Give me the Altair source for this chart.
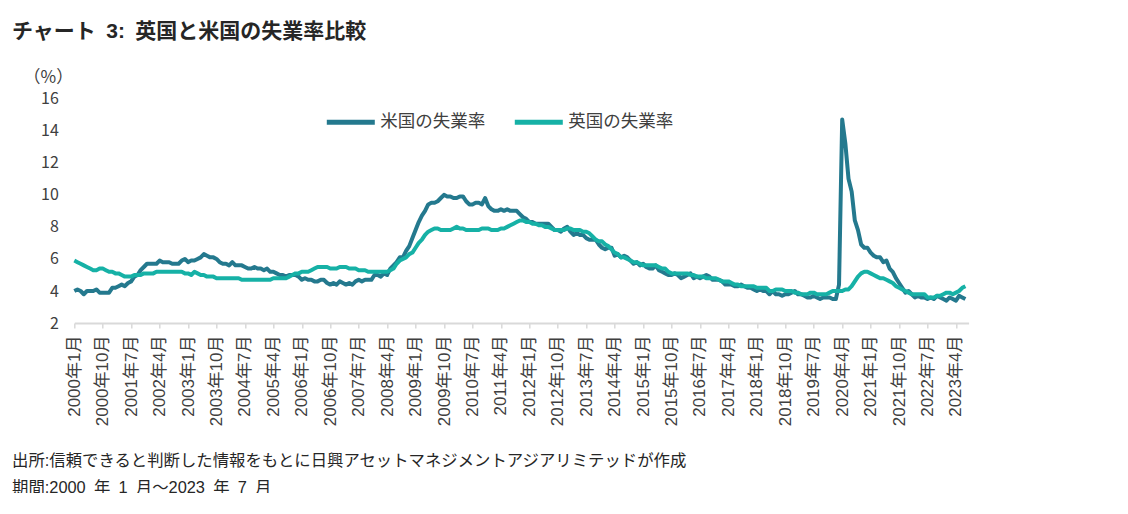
import altair as alt
import pandas as pd

SP = "\u2002"  # CJK-width space as used in the source document
title_text = [f"チャート{SP}3:{SP}英国と米国の失業率比較"]
unit_text = ["（%）"]
note1_text = ["出所:信頼できると判断した情報をもとに日興アセットマネジメントアジアリミテッドが作成"]
note2_text = [f"期間:2000{SP}年{SP}1{SP}月～2023{SP}年{SP}7{SP}月"]
series_names = ["米国の失業率", "英国の失業率"]
series_colors = ["#24798E", "#16B1A6"]

months = pd.period_range("2000-01", "2023-07", freq="M")

us_rate = [
    4.0, 4.1, 4.0, 3.8, 4.0, 4.0, 4.0, 4.1, 3.9, 3.9, 3.9, 3.9,
    4.2, 4.2, 4.3, 4.4, 4.3, 4.5, 4.6, 4.9, 5.0, 5.3, 5.5, 5.7,
    5.7, 5.7, 5.7, 5.9, 5.8, 5.8, 5.8, 5.7, 5.7, 5.7, 5.9, 6.0,
    5.8, 5.9, 5.9, 6.0, 6.1, 6.3, 6.2, 6.1, 6.1, 6.0, 5.8, 5.7,
    5.7, 5.6, 5.8, 5.6, 5.6, 5.6, 5.5, 5.4, 5.4, 5.5, 5.4, 5.4,
    5.3, 5.4, 5.2, 5.2, 5.1, 5.0, 5.0, 4.9, 5.0, 5.0, 5.0, 4.9,
    4.7, 4.8, 4.7, 4.7, 4.6, 4.6, 4.7, 4.7, 4.5, 4.4, 4.5, 4.4,
    4.6, 4.5, 4.4, 4.5, 4.4, 4.6, 4.7, 4.6, 4.7, 4.7, 4.7, 5.0,
    5.0, 4.9, 5.1, 5.0, 5.4, 5.6, 5.8, 6.1, 6.1, 6.5, 6.8, 7.3,
    7.8, 8.3, 8.7, 9.0, 9.4, 9.5, 9.5, 9.6, 9.8, 10.0, 9.9, 9.9,
    9.8, 9.8, 9.9, 9.9, 9.6, 9.4, 9.4, 9.5, 9.5, 9.4, 9.8, 9.3,
    9.1, 9.0, 9.0, 9.1, 9.0, 9.1, 9.0, 9.0, 9.0, 8.8, 8.6, 8.5,
    8.3, 8.3, 8.2, 8.2, 8.2, 8.2, 8.2, 8.0, 7.8, 7.8, 7.7, 7.9,
    8.0, 7.7, 7.5, 7.6, 7.5, 7.5, 7.3, 7.2, 7.2, 7.2, 6.9, 6.7,
    6.6, 6.7, 6.7, 6.2, 6.3, 6.1, 6.2, 6.1, 5.9, 5.7, 5.8, 5.6,
    5.7, 5.5, 5.4, 5.4, 5.6, 5.3, 5.2, 5.1, 5.0, 5.0, 5.1, 5.0,
    4.8, 4.9, 5.0, 5.1, 4.8, 4.9, 4.8, 4.9, 5.0, 4.9, 4.7, 4.7,
    4.7, 4.6, 4.4, 4.4, 4.4, 4.3, 4.3, 4.4, 4.3, 4.2, 4.2, 4.1,
    4.0, 4.1, 4.0, 4.0, 3.8, 4.0, 3.8, 3.8, 3.7, 3.8, 3.8, 3.9,
    4.0, 3.8, 3.8, 3.7, 3.6, 3.6, 3.7, 3.6, 3.5, 3.6, 3.6, 3.6,
    3.5, 3.5, 4.4, 14.7, 13.2, 11.0, 10.2, 8.4, 7.8, 6.9, 6.7, 6.7,
    6.4, 6.2, 6.1, 6.1, 5.8, 5.9, 5.4, 5.2, 4.8, 4.5, 4.2, 3.9,
    4.0, 3.8, 3.6, 3.7, 3.6, 3.6, 3.5, 3.6, 3.5, 3.7, 3.6, 3.5,
    3.4, 3.6, 3.5, 3.4, 3.7, 3.6, 3.5,
]

uk_rate = [
    5.9, 5.8, 5.7, 5.6, 5.5, 5.4, 5.3, 5.3, 5.4, 5.4, 5.3, 5.2,
    5.2, 5.1, 5.1, 5.0, 4.9, 4.9, 4.9, 5.0, 5.0, 5.0, 5.1, 5.1,
    5.1, 5.1, 5.2, 5.2, 5.2, 5.2, 5.2, 5.2, 5.2, 5.2, 5.2, 5.1,
    5.1, 5.0, 5.2, 5.1, 5.0, 5.0, 4.9, 4.9, 4.9, 4.8, 4.8, 4.8,
    4.8, 4.8, 4.8, 4.8, 4.8, 4.7, 4.7, 4.7, 4.7, 4.7, 4.7, 4.7,
    4.7, 4.7, 4.7, 4.8, 4.8, 4.8, 4.8, 4.8, 4.9, 5.0, 5.1, 5.1,
    5.2, 5.2, 5.2, 5.3, 5.4, 5.5, 5.5, 5.5, 5.5, 5.4, 5.4, 5.4,
    5.5, 5.5, 5.5, 5.4, 5.4, 5.4, 5.3, 5.3, 5.3, 5.2, 5.2, 5.2,
    5.2, 5.2, 5.2, 5.2, 5.3, 5.4, 5.7, 5.9, 6.0, 6.1, 6.3, 6.4,
    6.7, 7.0, 7.2, 7.5, 7.7, 7.8, 7.9, 7.9, 7.8, 7.8, 7.8, 7.8,
    7.9, 8.0, 7.9, 7.9, 7.8, 7.8, 7.8, 7.8, 7.8, 7.9, 7.9, 7.9,
    7.8, 7.8, 7.8, 7.9, 7.9, 8.0, 8.1, 8.2, 8.3, 8.4, 8.4, 8.3,
    8.3, 8.2, 8.2, 8.1, 8.1, 8.0, 8.0, 7.9, 7.8, 7.8, 7.8, 7.8,
    7.9, 7.9, 7.8, 7.8, 7.8, 7.7, 7.7, 7.6, 7.4, 7.2, 7.1, 7.1,
    6.9, 6.8, 6.6, 6.4, 6.3, 6.1, 6.1, 6.0, 5.9, 5.8, 5.8, 5.7,
    5.6, 5.6, 5.6, 5.6, 5.6, 5.5, 5.4, 5.4, 5.2, 5.1, 5.1, 5.1,
    5.1, 5.1, 5.1, 5.0, 5.0, 4.9, 4.9, 4.9, 4.8, 4.8, 4.8, 4.8,
    4.7, 4.6, 4.6, 4.6, 4.5, 4.4, 4.4, 4.3, 4.3, 4.3, 4.3, 4.3,
    4.2, 4.2, 4.2, 4.2, 4.0, 4.0, 4.1, 4.1, 4.1, 4.0, 4.0, 4.0,
    3.9, 3.9, 3.8, 3.8, 3.8, 3.9, 3.9, 3.8, 3.8, 3.8, 3.8, 3.9,
    4.0, 4.0, 4.0, 4.0, 4.1, 4.1, 4.3, 4.6, 4.9, 5.1, 5.2, 5.2,
    5.1, 5.0, 4.9, 4.8, 4.8, 4.7, 4.6, 4.5, 4.3, 4.2, 4.1, 4.0,
    3.9, 3.8, 3.8, 3.8, 3.8, 3.8, 3.6, 3.6, 3.6, 3.7, 3.7, 3.8,
    3.9, 3.9, 3.8, 3.9, 4.0, 4.2, 4.3,
]

tick_idx = list(range(0, len(months), 9))
tick_labels = [f"{months[i].year}年{months[i].month}月" for i in tick_idx]
y_ticks = [2, 4, 6, 8, 10, 12, 14, 16]

rows = []
for name, vals in zip(series_names, [us_rate, uk_rate]):
    for i, v in enumerate(vals):
        rows.append({"idx": i, "series": name, "value": v})
df = pd.DataFrame(rows)

FONT = "Noto Sans CJK JP"
MIX = "Liberation Sans, Noto Sans CJK JP"
TXT = "#404040"
W = 894.3
H = 224.5
X0 = 74.3   # page x of plot left
Y0 = 98.6   # page y of plot top

label_expr = "[" + ",".join(f"'{l}'" for l in tick_labels) + "][round(datum.value/9)]"

lines = alt.Chart(df).mark_line(strokeWidth=4, strokeJoin="round").encode(
    x=alt.X("idx:Q",
            scale=alt.Scale(domain=[0, 283], nice=False, zero=False),
            axis=alt.Axis(values=tick_idx, labelExpr=label_expr, labelAngle=270,
                          title=None, grid=False, domainColor="#D9D9D9", domainWidth=2,
                          tickColor="#D9D9D9", tickWidth=1.5, tickSize=5,
                          labelFont=MIX, labelFontSize=17, labelColor=TXT,
                          labelPadding=7, labelBaseline="middle", labelAlign="right")),
    y=alt.Y("value:Q",
            scale=alt.Scale(domain=[2, 16], nice=False, zero=False),
            axis=alt.Axis(values=y_ticks, title=None, grid=False, domain=False, ticks=False,
                          labelFont=FONT, labelFontSize=16, labelColor=TXT, labelPadding=16)),
    color=alt.Color("series:N",
                    scale=alt.Scale(domain=series_names, range=series_colors),
                    legend=alt.Legend(title=None, orient="none", legendX=250, legendY=-3,
                                      direction="horizontal", symbolType="stroke",
                                      symbolSize=2304, symbolStrokeWidth=5,
                                      labelFont=FONT, labelFontSize=17.5, labelColor=TXT,
                                      columnPadding=19, labelOffset=3, padding=0)),
)


def text_layer(values, px, py, size, weight="normal", color=TXT, font=FONT):
    return alt.Chart(pd.DataFrame({"t": values})).mark_text(
        align="left", baseline="middle", font=font, fontSize=size,
        fontWeight=weight, color=color,
    ).encode(x=alt.value(px - X0), y=alt.value(py - Y0), text="t:N")


title = text_layer(title_text, 12, 32, 21, "bold", "#262626", MIX)
unit = text_layer(unit_text, 23.5, 78, 17)
note1 = text_layer(note1_text, 12, 461, 16.4, "normal", "#262626", MIX)
note2 = text_layer(note2_text, 12, 488, 16.4, "normal", "#262626", MIX)

chart = alt.layer(lines, title, unit, note1, note2).properties(
    width=W, height=H,
    padding={"left": X0 - 8, "top": Y0 - 8, "right": 10, "bottom": 170},
    autosize=alt.AutoSizeParams(type="none"),
    background="white",
).configure_view(stroke=None)

chart.save("out.html", embed_options={"renderer": "svg", "actions": False})
